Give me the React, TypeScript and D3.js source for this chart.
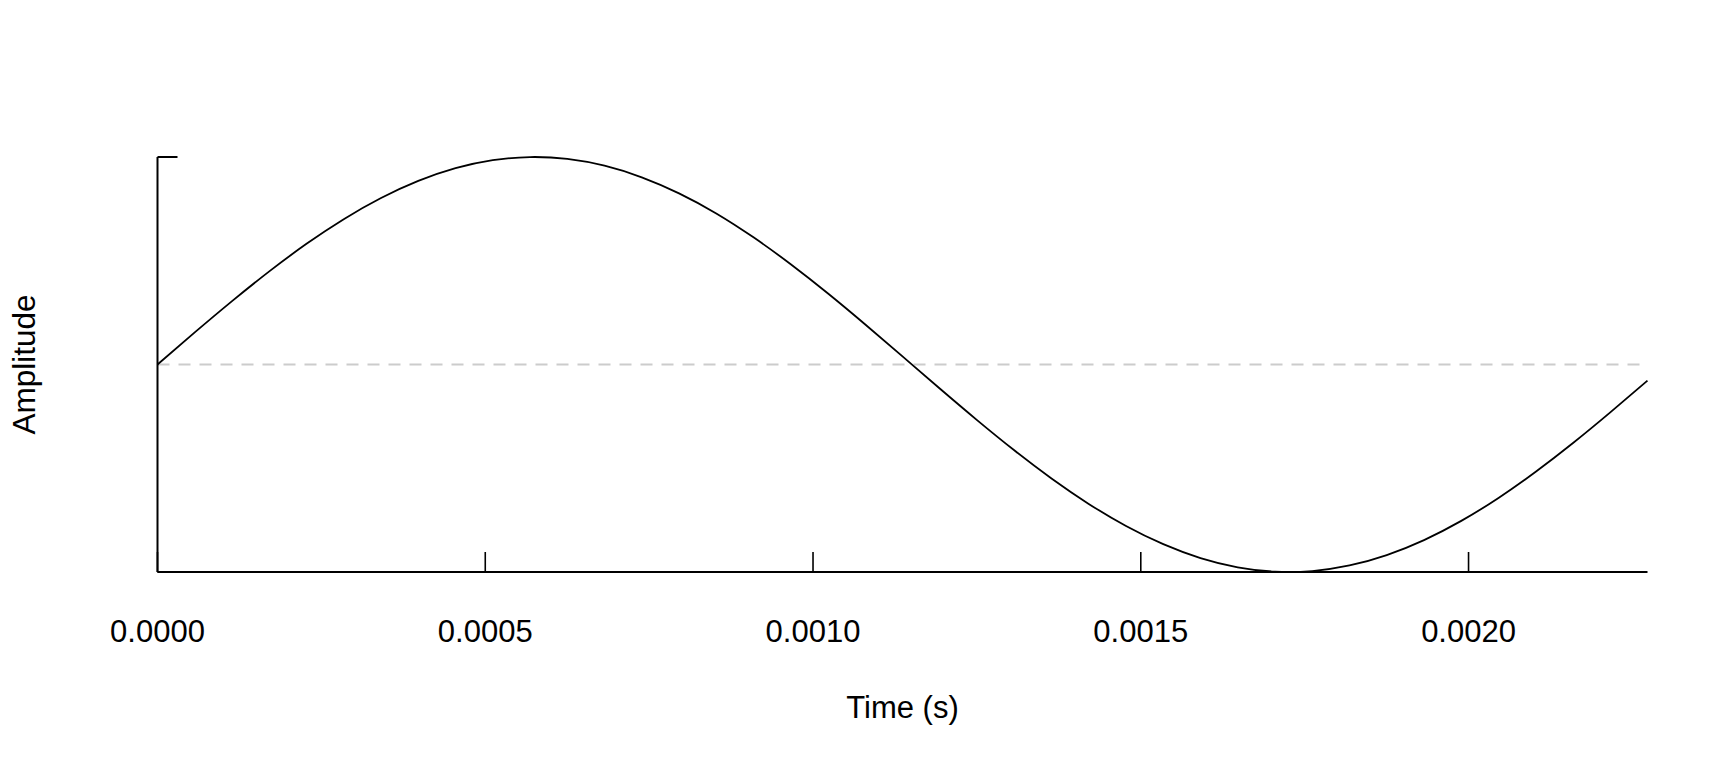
import React from "react";
import * as d3 from "d3";

const times = [
  0, 0.0000568, 0.0001137, 0.0001705, 0.0002273, 0.0002841, 0.000341, 0.0003978,
  0.0004546, 0.0005114, 0.0005683, 0.0006251, 0.0006819, 0.0007387, 0.0007956,
  0.0008524, 0.0009092, 0.000966, 0.0010229, 0.0010797, 0.0011365, 0.0011933,
  0.0012502, 0.001307, 0.0013638, 0.0014206, 0.0014775, 0.0015343, 0.0015911,
  0.0016479, 0.0017048, 0.0017616, 0.0018184, 0.0018752, 0.0019321, 0.0019889,
  0.0020457, 0.0021025, 0.0021594, 0.0022162, 0.002273,
];
const amplitude = [
  0, 0.1545, 0.3053, 0.4488, 0.5815, 0.7002, 0.8021, 0.8847, 0.9461, 0.9848,
  0.9998, 0.9908, 0.958, 0.9022, 0.8248, 0.728, 0.6127, 0.4833, 0.3422, 0.1929,
  0.039, -0.1159, -0.268, -0.4136, -0.5493, -0.6718, -0.7782, -0.8659, -0.9328,
  -0.9773, -0.9983, -0.9953, -0.9685, -0.9184, -0.8462, -0.7537, -0.6431,
  -0.517, -0.3786, -0.231, -0.0779,
];
const xTicks = [0, 0.0005, 0.001, 0.0015, 0.002];
const yTicks = [-1, 1];
const xDomain = [0, 0.002273];
const yDomain = [-1, 1];

const FONT = "'Liberation Sans', Arial, Helvetica, sans-serif";

export default function App() {
  const W = 1728;
  const H = 768;
  const x = d3.scaleLinear().domain(xDomain).range([157.5, 1647.5]);
  const y = d3.scaleLinear().domain(yDomain).range([572, 157]);
  const pts = times.map((t, i) => [t, amplitude[i]] as [number, number]);
  const line = d3
    .line<[number, number]>()
    .x((d) => x(d[0]))
    .y((d) => y(d[1]))
    .curve(d3.curveNatural);
  const tickLen = 20;
  return (
    <svg
      width={W}
      height={H}
      style={{ position: "absolute", left: 0, top: 0, background: "#fff" }}
      fontFamily={FONT}
    >
      <line
        x1={x(xDomain[0])}
        x2={x(xDomain[1])}
        y1={y(0)}
        y2={y(0)}
        stroke="#cccccc"
        strokeWidth={2}
        strokeDasharray="12 9"
      />
      <path d={line(pts) || ""} fill="none" stroke="#000" strokeWidth={1.8} />
      {/* x axis */}
      <line x1={x(xDomain[0])} x2={x(xDomain[1])} y1={y(-1)} y2={y(-1)} stroke="#000" strokeWidth={2} />
      {xTicks.map((t) => (
        <g key={t}>
          <line x1={x(t)} x2={x(t)} y1={y(-1)} y2={y(-1) - tickLen} stroke="#000" strokeWidth={1.6} />
          <text x={x(t)} y={641.5} textAnchor="middle" fontSize={31} fill="#000">
            {t.toFixed(4)}
          </text>
        </g>
      ))}
      {/* y axis */}
      <line x1={x(0)} x2={x(0)} y1={y(-1)} y2={y(1)} stroke="#000" strokeWidth={2} />
      {yTicks.map((v) => (
        <line key={v} x1={x(0)} x2={x(0) + tickLen} y1={y(v)} y2={y(v)} stroke="#000" strokeWidth={2} />
      ))}
      <text x={(x(xDomain[0]) + x(xDomain[1])) / 2} y={718} textAnchor="middle" fontSize={31} fill="#000">
        Time (s)
      </text>
      <text
        transform={`translate(35, ${y(0)}) rotate(-90)`}
        textAnchor="middle"
        fontSize={31.5}
        fill="#000"
      >
        Amplitude
      </text>
    </svg>
  );
}
